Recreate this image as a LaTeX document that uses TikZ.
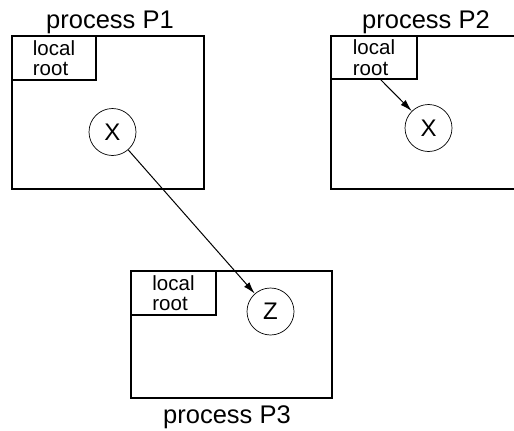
\documentclass[tikz,border=0pt]{standalone}
\usepackage{fontspec}
\setmainfont{Liberation Sans}
\usetikzlibrary{arrows.meta}
\begin{document}
\begin{tikzpicture}[x=1pt,y=-1pt,
 proc/.style={draw, line width=1.2pt, inner sep=0pt},
 lroot/.style={draw, line width=1.2pt, align=left, inner sep=0pt, font=\fontsize{20.5}{20.5}\selectfont},
 obj/.style={circle, draw, line width=0.7pt, minimum size=47pt, inner sep=0pt, font=\fontsize{24}{26}\selectfont},
 title/.style={font=\fontsize{25.5}{28}\selectfont, inner sep=0pt, anchor=base},
 ptr/.style={-{Latex[length=12pt,width=7pt]}, line width=1pt}]
\useasboundingbox (0,0) rectangle (514,431);
\clip (0,0) rectangle (514,431);
% process P1
\node[proc, minimum width=192pt, minimum height=153pt] (p1) at (108,112.5) {};
\node[title] (t1) at (110,28) {process P1};
\node[lroot, minimum width=84pt, minimum height=44pt] (lr1) at (54,58) {local\\root};
\node[obj] (x1) at (112.5,132) {X};
% process P2
\node[proc, minimum width=199pt, minimum height=153pt] (p2) at (430.5,112.5) {};
\node[title] (t2) at (426,28) {process P2};
\node[lroot, minimum width=86pt, minimum height=43pt] (lr2) at (374,57.5) {local\\root};
\node[obj] (x2) at (428.5,128) {X};
% process P3
\node[proc, minimum width=201pt, minimum height=127pt] (p3) at (231.5,334.5) {};
\node[title] (t3) at (227,423) {process P3};
\node[lroot, minimum width=85pt, minimum height=44pt] (lr3) at (173.5,293) {local\\root};
\node[obj] (z) at (270.5,311.5) {Z};
% pointers
\coordinate (s2) at (380,79);
\draw[ptr] (s2) -- (x2);
\draw[ptr] (x1) -- (z);
\end{tikzpicture}
\end{document}
